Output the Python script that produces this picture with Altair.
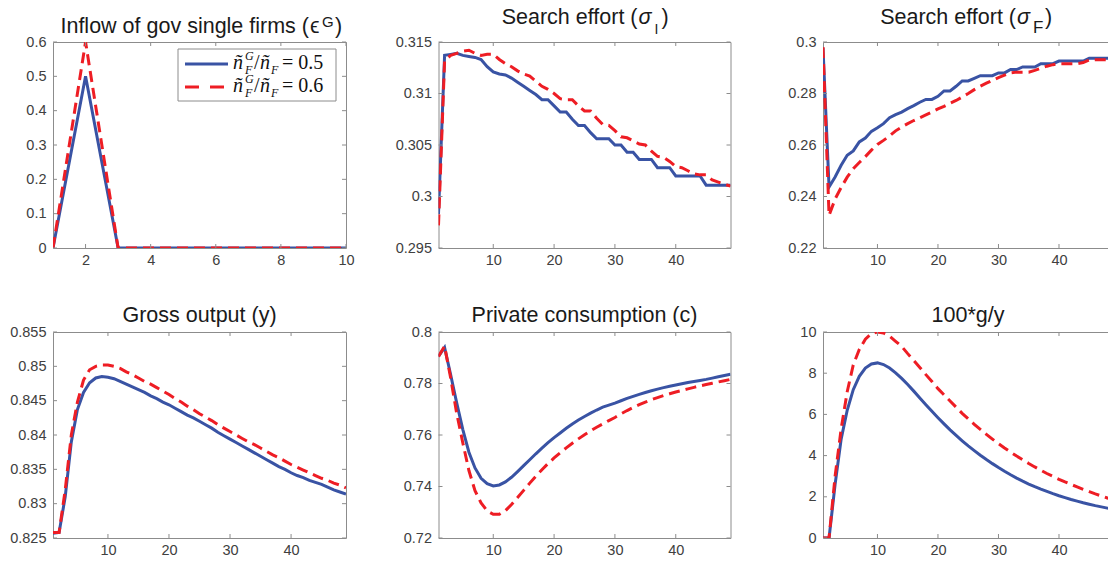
import altair as alt
import pandas as pd

BLUE = "#3953A4"
RED = "#EE1D24"
FRAME = "#8c8c8c"
LABEL = "#404040"
TITLE = "#1a1a1a"
SANS = "Liberation Sans"
SERIF = "Liberation Serif"

# ---------------- data ----------------
t_short = list(range(1, 11))
eps_blue = [0, 0.5, 0, 0, 0, 0, 0, 0, 0, 0]
eps_red = [0, 0.6, 0, 0, 0, 0, 0, 0, 0, 0]

t_long = list(range(1, 50))

sigI_blue = [0.2983, 0.3137, 0.3138, 0.3139, 0.3137, 0.3136, 0.3135, 0.3133, 0.3126, 0.3121,
             0.3119, 0.3118, 0.3115, 0.3111, 0.3107, 0.3103, 0.3099, 0.3094, 0.3094, 0.3088,
             0.3082, 0.3082, 0.3075, 0.3069, 0.3069, 0.3062, 0.3056, 0.3056, 0.3056, 0.3050,
             0.3050, 0.3043, 0.3043, 0.3036, 0.3036, 0.3036, 0.3028, 0.3028, 0.3028, 0.3020,
             0.3020, 0.3020, 0.3020, 0.3020, 0.3011, 0.3011, 0.3011, 0.3011, 0.3011]
sigI_red = [0.2972, 0.3132, 0.3137, 0.3139, 0.3141, 0.3142, 0.3139, 0.3137, 0.3138, 0.3138,
            0.3133, 0.3129, 0.3126, 0.3122, 0.3119, 0.3117, 0.3112, 0.3107, 0.3104, 0.3100,
            0.3095, 0.3094, 0.3094, 0.3088, 0.3083, 0.3083, 0.3076, 0.3070, 0.3069, 0.3064,
            0.3058, 0.3057, 0.3054, 0.3051, 0.3050, 0.3044, 0.3039, 0.3038, 0.3034, 0.3029,
            0.3028, 0.3025, 0.3022, 0.3021, 0.3021, 0.3016, 0.3014, 0.3012, 0.3010]

sigF_blue = [0.2977, 0.2437, 0.2476, 0.2521, 0.2560, 0.2577, 0.2612, 0.2627, 0.2653, 0.2667,
             0.2683, 0.2706, 0.2718, 0.2728, 0.2741, 0.2753, 0.2766, 0.2777, 0.2777, 0.2789,
             0.2810, 0.2810, 0.2828, 0.2849, 0.2849, 0.2859, 0.2869, 0.2869, 0.2869, 0.2880,
             0.2880, 0.2893, 0.2893, 0.2903, 0.2903, 0.2903, 0.2916, 0.2916, 0.2916, 0.2926,
             0.2926, 0.2926, 0.2926, 0.2926, 0.2937, 0.2937, 0.2937, 0.2937, 0.2937]
sigF_red = [0.2980, 0.2327, 0.2390, 0.2435, 0.2475, 0.2508, 0.2532, 0.2555, 0.2580, 0.2602,
            0.2618, 0.2635, 0.2655, 0.2670, 0.2683, 0.2695, 0.2706, 0.2717, 0.2728, 0.2740,
            0.2750, 0.2762, 0.2773, 0.2786, 0.2800, 0.2815, 0.2828, 0.2840, 0.2851, 0.2862,
            0.2871, 0.2880, 0.2883, 0.2883, 0.2883, 0.2890, 0.2898, 0.2906, 0.2912, 0.2916,
            0.2916, 0.2916, 0.2916, 0.2920, 0.2930, 0.2931, 0.2931, 0.2931, 0.2931]

y_blue = [0.8257, 0.8258, 0.8310, 0.8390, 0.8437, 0.8462, 0.8476, 0.8483, 0.8485, 0.8484,
          0.8482, 0.8478, 0.8474, 0.8470, 0.8466, 0.8462, 0.8457, 0.8453, 0.8448, 0.8444,
          0.8439, 0.8434, 0.8429, 0.8425, 0.8420, 0.8415, 0.8410, 0.8404, 0.8399, 0.8394,
          0.8389, 0.8384, 0.8379, 0.8374, 0.8369, 0.8364, 0.8359, 0.8354, 0.8350, 0.8345,
          0.8341, 0.8338, 0.8334, 0.8331, 0.8328, 0.8324, 0.8320, 0.8317, 0.8314]
y_red = [0.8258, 0.8258, 0.8320, 0.8400, 0.8448, 0.8480, 0.8495, 0.8500, 0.8502, 0.8502,
         0.8500, 0.8497, 0.8492, 0.8488, 0.8483, 0.8478, 0.8474, 0.8469, 0.8464, 0.8459,
         0.8453, 0.8448, 0.8442, 0.8437, 0.8431, 0.8426, 0.8421, 0.8415, 0.8410, 0.8405,
         0.8400, 0.8395, 0.8390, 0.8386, 0.8381, 0.8376, 0.8371, 0.8367, 0.8362, 0.8357,
         0.8353, 0.8349, 0.8345, 0.8341, 0.8337, 0.8334, 0.8330, 0.8327, 0.8323]

c_blue = [0.7905, 0.7940, 0.7834, 0.7724, 0.7621, 0.7533, 0.7472, 0.7432, 0.7411, 0.7402,
          0.7406, 0.7418, 0.7436, 0.7458, 0.7481, 0.7504, 0.7527, 0.7549, 0.7570, 0.7590,
          0.7608, 0.7626, 0.7643, 0.7658, 0.7672, 0.7685, 0.7697, 0.7708, 0.7716, 0.7724,
          0.7733, 0.7742, 0.7750, 0.7758, 0.7765, 0.7772, 0.7778, 0.7784, 0.7789, 0.7794,
          0.7799, 0.7804, 0.7808, 0.7812, 0.7816, 0.7821, 0.7826, 0.7831, 0.7836]
c_red = [0.7905, 0.7945, 0.7821, 0.7683, 0.7569, 0.7462, 0.7384, 0.7336, 0.7305, 0.7292,
         0.7292, 0.7306, 0.7330, 0.7357, 0.7385, 0.7413, 0.7440, 0.7465, 0.7489, 0.7511,
         0.7531, 0.7550, 0.7568, 0.7585, 0.7601, 0.7616, 0.7630, 0.7643, 0.7656, 0.7668,
         0.7682, 0.7695, 0.7707, 0.7718, 0.7728, 0.7737, 0.7745, 0.7753, 0.7760, 0.7767,
         0.7773, 0.7779, 0.7785, 0.7791, 0.7796, 0.7801, 0.7806, 0.7811, 0.7816]

gy_blue = [0, 0, 2.6, 4.8, 6.2, 7.2, 7.85, 8.25, 8.45, 8.5,
           8.42, 8.25, 8.02, 7.75, 7.45, 7.13, 6.80, 6.47, 6.15, 5.84,
           5.54, 5.25, 4.98, 4.72, 4.47, 4.24, 4.02, 3.81, 3.61, 3.42,
           3.24, 3.07, 2.91, 2.76, 2.62, 2.49, 2.37, 2.26, 2.15, 2.05,
           1.96, 1.87, 1.79, 1.71, 1.64, 1.57, 1.51, 1.45, 1.40]
gy_red = [0, 0, 3.0, 5.3, 7.1, 8.4, 9.15, 9.65, 9.92, 10.0,
          9.95, 9.8, 9.55, 9.3, 8.95, 8.62, 8.28, 7.93, 7.6, 7.25,
          6.95, 6.65, 6.35, 6.05, 5.78, 5.52, 5.27, 5.03, 4.8, 4.58,
          4.37, 4.17, 3.98, 3.8, 3.62, 3.45, 3.29, 3.13, 2.99, 2.85,
          2.72, 2.60, 2.48, 2.36, 2.25, 2.14, 2.04, 1.94, 1.85]

legend_ratios = ["0.5", "0.6"]

TITLE_TEXT = {
    "eps": ("Inflow of gov single firms (", "\u03f5", "G", ")"),
    "sigI": ("Search effort (", "\u03c3", "I", ")"),
    "sigF": ("Search effort (", "\u03c3", "F", ")"),
    "y": "Gross output (y)",
    "c": "Private consumption (c)",
    "gy": "100*g/y",
}

TS = 21.5  # title font size


# ---------------- helpers ----------------
def text_layer(s, x, y, size, font=SANS, style="normal", align="left", color=TITLE):
    return alt.Chart(pd.DataFrame({"s": [s]})).mark_text(
        font=font, fontSize=size, fontStyle=style, align=align,
        baseline="alphabetic", color=color
    ).encode(text="s:N", x=alt.value(x), y=alt.value(y))


def panel(t, yb, yr, xdom, ydom, xticks, yticks, w, h, titles, right=True, extra=None):
    xs = alt.Scale(domain=xdom, nice=False, zero=False)
    ys = alt.Scale(domain=ydom, nice=False, zero=False)
    db = pd.DataFrame({"t": t, "v": yb})
    dr = pd.DataFrame({"t": t, "v": yr})

    common = dict(title=None, grid=False, ticks=False, domain=True,
                  domainColor=FRAME, domainWidth=1)
    ax_b = alt.Axis(orient="bottom", values=xticks, labelFontSize=14.5, labelColor=LABEL,
                    labelFont=SANS, labelPadding=5, labelFlush=False, labelOverlap=False,
                    **common)
    ax_l = alt.Axis(orient="left", values=yticks, format="~r", labelFontSize=14.5,
                    labelColor=LABEL, labelFont=SANS, labelPadding=7, labelOverlap=False,
                    **common)
    ax_t = alt.Axis(orient="top", labels=False, **common)
    ax_r = alt.Axis(orient="right", labels=False, **common)

    blue = alt.Chart(db).mark_line(color=BLUE, strokeWidth=3, clip=True).encode(
        x=alt.X("t:Q", scale=xs, axis=ax_b), y=alt.Y("v:Q", scale=ys, axis=ax_l))
    red = alt.Chart(dr).mark_line(color=RED, strokeWidth=3, strokeDash=[11, 6],
                                  clip=True).encode(
        x=alt.X("t:Q", scale=xs, axis=ax_t),
        y=alt.Y("v:Q", scale=ys, axis=ax_r if right else None))

    xt = pd.DataFrame({"v": xticks})
    yt = pd.DataFrame({"v": yticks})
    tk = dict(color=FRAME, strokeWidth=1)
    ticks = [
        alt.Chart(xt).mark_rule(**tk).encode(x=alt.X("v:Q", scale=xs, axis=None),
                                             y=alt.value(h), y2=alt.value(h - 4)),
        alt.Chart(xt).mark_rule(**tk).encode(x=alt.X("v:Q", scale=xs, axis=None),
                                             y=alt.value(0), y2=alt.value(4)),
        alt.Chart(yt).mark_rule(**tk).encode(y=alt.Y("v:Q", scale=ys, axis=None),
                                             x=alt.value(0), x2=alt.value(4)),
    ]
    if right:
        ticks.append(alt.Chart(yt).mark_rule(**tk).encode(
            y=alt.Y("v:Q", scale=ys, axis=None), x=alt.value(w - 4), x2=alt.value(w)))

    layers = [blue, red] + ticks + titles + (extra or [])
    return alt.layer(*layers).resolve_axis(x="independent", y="independent").properties(
        width=w, height=h)


H = 206

# Panel 1 title + legend
p1_t = TITLE_TEXT["eps"]
p1_titles = [
    text_layer(p1_t[0], 256, -9, TS, align="right"),
    text_layer(p1_t[1], 257, -9, TS),
    text_layer(p1_t[2], 269, -15, 15),
    text_layer(p1_t[3], 282, -9, TS),
]
legend = [
    alt.Chart(pd.DataFrame({"a": [0]})).mark_rect(fill="white", stroke=FRAME, strokeWidth=1).encode(
        x=alt.value(125), x2=alt.value(283), y=alt.value(7), y2=alt.value(59)),
    alt.Chart(pd.DataFrame({"a": [0]})).mark_rule(color=BLUE, strokeWidth=3).encode(
        x=alt.value(132), x2=alt.value(175), y=alt.value(22)),
    alt.Chart(pd.DataFrame({"a": [0]})).mark_rule(color=RED, strokeWidth=3, strokeDash=[14, 11]).encode(
        x=alt.value(132), x2=alt.value(175), y=alt.value(45)),
    # invisible anchor fixing the page's top-left corner
    alt.Chart(pd.DataFrame({"a": [0]})).mark_rect(opacity=0).encode(
        x=alt.value(-53), x2=alt.value(-52), y=alt.value(-42), y2=alt.value(-41)),
]
for i, r in enumerate(legend_ratios):
    by = 27 + 23 * i
    legend += [
        text_layer("\u00f1", 180, by, 20, font=SERIF, style="italic", color="#111"),
        text_layer("G", 192, by - 9, 12, font=SERIF, style="italic", color="#111"),
        text_layer("F", 192, by + 5, 12, font=SERIF, style="italic", color="#111"),
        text_layer("/", 201, by, 20, font=SERIF, color="#111"),
        text_layer("\u00f1", 207, by, 20, font=SERIF, style="italic", color="#111"),
        text_layer("F", 218, by + 5, 12, font=SERIF, style="italic", color="#111"),
        text_layer("= " + r, 229, by, 20, font=SERIF, color="#111"),
    ]

p2_t = TITLE_TEXT["sigI"]
p2_titles = [
    text_layer(p2_t[0], 199, -18, TS, align="right"),
    text_layer(p2_t[1], 200, -18, TS, style="italic"),
    text_layer(p2_t[2], 216, -8, 14),
    text_layer(p2_t[3], 223, -18, TS),
]
p3_t = TITLE_TEXT["sigF"]
p3_titles = [
    text_layer(p3_t[0], 193, -18, TS, align="right"),
    text_layer(p3_t[1], 194, -18, TS, style="italic"),
    text_layer(p3_t[2], 210, -9, 17),
    text_layer(p3_t[3], 222, -18, TS),
]

p1 = panel(t_short, eps_blue, eps_red, [1, 10], [0, 0.6], [2, 4, 6, 8, 10],
           [0, 0.1, 0.2, 0.3, 0.4, 0.5, 0.6], 293, H, p1_titles, extra=legend)
p2 = panel(t_long, sigI_blue, sigI_red, [1, 49], [0.295, 0.315], [10, 20, 30, 40],
           [0.295, 0.3, 0.305, 0.31, 0.315], 292, H, p2_titles)
p3 = panel(t_long, sigF_blue, sigF_red, [1, 48.1], [0.22, 0.30], [10, 20, 30, 40],
           [0.22, 0.24, 0.26, 0.28, 0.3], 285, H, p3_titles, right=False)

p4 = panel(t_long, y_blue, y_red, [1, 49], [0.825, 0.855], [10, 20, 30, 40],
           [0.825, 0.83, 0.835, 0.84, 0.845, 0.85, 0.855], 293, H,
           [text_layer(TITLE_TEXT["y"], 146.5, -10, TS, align="center")])
p5 = panel(t_long, c_blue, c_red, [1, 49], [0.72, 0.80], [10, 20, 30, 40],
           [0.72, 0.74, 0.76, 0.78, 0.8], 292, H,
           [text_layer(TITLE_TEXT["c"], 146, -10, TS, align="center")])
p6 = panel(t_long, gy_blue, gy_red, [1, 48.1], [0, 10], [10, 20, 30, 40],
           [0, 2, 4, 6, 8, 10], 285, H,
           [text_layer(TITLE_TEXT["gy"], 145, -10, TS, align="center")], right=False)

chart = alt.concat(p1, p2, p3, p4, p5, p6, columns=3,
                   spacing={"row": 84, "column": 92.5}, bounds="flush").properties(
    padding=0, background="white"
).configure_view(stroke=None)

chart.save("out.html", embed_options={"renderer": "svg", "actions": False})
